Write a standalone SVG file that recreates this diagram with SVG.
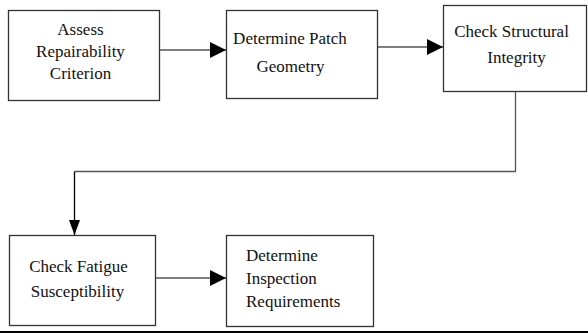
<svg xmlns="http://www.w3.org/2000/svg" width="588" height="333" viewBox="0 0 588 333">
<style>
.box{fill:#fff;stroke:#333;stroke-width:1.3}
.t{font-family:"Liberation Serif","Times New Roman",serif;font-size:17px;fill:#111}
.c{text-anchor:middle}
.ln{fill:none;stroke:#555;stroke-width:1.3}
</style>
<defs>
<marker id="ah" markerWidth="16" markerHeight="16" viewBox="0 0 16 16" refX="16" refY="8" orient="auto" markerUnits="userSpaceOnUse">
<path d="M0,0 L16,8 L0,16 Z" fill="#000"/>
</marker>
<marker id="ahn" markerWidth="15" markerHeight="11" viewBox="0 0 15 11" refX="15" refY="5.5" orient="auto" markerUnits="userSpaceOnUse">
<path d="M0,0 L15,5.5 L0,11 Z" fill="#000"/>
</marker>
</defs>
<rect width="588" height="333" fill="#fff"/>
<g id="n1">
<rect class="box" x="8.5" y="10.5" width="151" height="90"/>
<text class="t c" x="80.5" y="35">Assess</text>
<text class="t c" x="80.5" y="57">Repairability</text>
<text class="t c" x="80.5" y="79">Criterion</text>
</g>
<g id="n2">
<rect class="box" x="226.5" y="10.5" width="151" height="88"/>
<text class="t c" x="290" y="44">Determine Patch</text>
<text class="t c" x="290.5" y="72">Geometry</text>
</g>
<g id="n3">
<rect class="box" x="443.5" y="5.5" width="143" height="86"/>
<text class="t c" x="511.5" y="37">Check Structural</text>
<text class="t c" x="516.5" y="63">Integrity</text>
</g>
<g id="n4">
<rect class="box" x="9.5" y="235.5" width="146" height="90"/>
<text class="t c" x="78.5" y="272">Check Fatigue</text>
<text class="t c" x="77.5" y="297">Susceptibility</text>
</g>
<g id="n5">
<rect class="box" x="226.5" y="235.5" width="147" height="91"/>
<text class="t" x="246" y="261">Determine</text>
<text class="t" x="246" y="284">Inspection</text>
<text class="t" x="246" y="307">Requirements</text>
</g>
<g id="connectors">
<path class="ln" d="M160,50 H226" marker-end="url(#ah)"/>
<path class="ln" d="M378,47 H443" marker-end="url(#ah)"/>
<path class="ln" d="M515.5,92 V171.5 H74.5"/>
<path d="M74.5,171.5 V235" fill="none" stroke="#000" stroke-width="1.3" marker-end="url(#ahn)"/>
<path class="ln" d="M156,278 H226" marker-end="url(#ah)"/>
</g>
<line x1="0" y1="332" x2="588" y2="332" stroke="#000" stroke-width="2"/>
</svg>
